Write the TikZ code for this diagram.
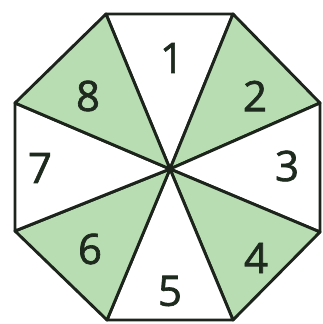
\documentclass[tikz,border=0pt]{standalone}
\usepackage{fontspec}
\newfontfamily\numfont[FakeBold=1.6]{Open Sans}
\definecolor{sect}{HTML}{B9DDB3}
\definecolor{edge}{HTML}{1C241C}
\definecolor{digit}{HTML}{1E2A1E}
\tikzset{
  sector/.style={draw=edge, line width=2.9pt, line join=round},
  green/.style={sector, fill=sect},
  white/.style={sector, fill=white},
  num/.style={font=\numfont\fontsize{42}{42}\selectfont, text=digit, inner sep=0pt}
}
\begin{document}
\begin{tikzpicture}[x=1pt,y=-1pt]
\useasboundingbox (0,0) rectangle (322,324);
\coordinate (O) at (170,169);
\coordinate (A) at (106,14);
\coordinate (B) at (233,14);
\coordinate (C) at (320,103);
\coordinate (D) at (320,232);
\coordinate (E) at (233,320);
\coordinate (F) at (107,320);
\coordinate (G) at (15,231);
\coordinate (H) at (15,103);
\path[white] (O) -- (A) -- (B) -- cycle;
\path[green] (O) -- (B) -- (C) -- cycle;
\path[white] (O) -- (C) -- (D) -- cycle;
\path[green] (O) -- (D) -- (E) -- cycle;
\path[white] (O) -- (E) -- (F) -- cycle;
\path[green] (O) -- (F) -- (G) -- cycle;
\path[white] (O) -- (G) -- (H) -- cycle;
\path[green] (O) -- (H) -- (A) -- cycle;
\node[num] (n1) at (172,58) {1};
\node[num] (n2) at (255,96) {2};
\node[num] (n3) at (287,166) {3};
\node[num] (n4) at (256,258) {4};
\node[num] (n5) at (170,291) {5};
\node[num] (n6) at (90,249) {6};
\node[num] (n7) at (40,168) {7};
\node[num] (n8) at (88,96) {8};
\end{tikzpicture}
\end{document}
